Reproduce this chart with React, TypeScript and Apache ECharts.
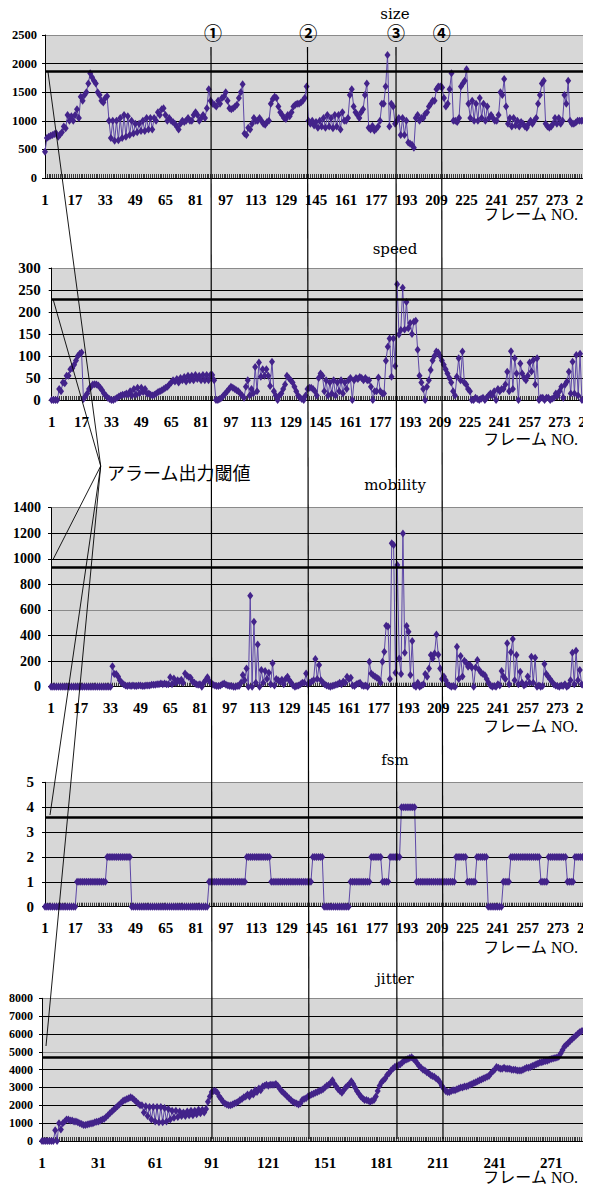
import React, { useEffect, useRef } from 'react';
import * as echarts from 'echarts';

// ---------- DATA ----------
const FRAME_COUNT = 290;
const FRAMES: string[] = Array.from({ length: FRAME_COUNT }, (_, i) => String(i + 1));

const SIZE = [
  460, 700, 720, 740, 750, 770, 780, 720, 760, 800,
  900, 870, 1100, 1000, 1080, 1000, 1100, 1200, 1050, 1420,
  1350, 1450, 1500, 1650, 1830, 1760, 1700, 1650, 1500, 1450,
  1350, 1320, 1400, 1430, 1000, 700, 1000, 650, 1000, 660,
  1050, 700, 1100, 720, 1080, 750, 1000, 780, 950, 800,
  950, 820, 1000, 820, 1050, 850, 1050, 850, 1050, 1000,
  1150, 1100, 1200, 1220, 1100, 1000, 1050, 1000, 980, 950,
  900, 850, 950, 1000, 980, 1000, 1050, 1000, 1000, 1100,
  1150, 1100, 1000, 1050, 1100, 1050, 1220, 1550, 1350, 1300,
  1280, 1250, 1350, 1300, 1400, 1420, 1500, 1350, 1220, 1200,
  1220, 1250, 1280, 1400, 1500, 1640, 780, 750, 880, 850,
  950, 1050, 1000, 1000, 1050, 1000, 950, 930, 980, 1000,
  1300, 1380, 1420, 1400, 1250, 1150, 1100, 1050, 1030, 1100,
  1080, 1150, 1250, 1280, 1300, 1300, 1320, 1350, 1400, 1600,
  1000, 950, 1000, 920, 980, 880, 1000, 900, 1050, 880,
  1100, 900, 1050, 870, 1100, 900, 1100, 850, 1150, 1000,
  1000, 1050, 1450, 1550, 1250, 1150, 1100, 1050, 1150, 1200,
  1450, 1650, 880, 850, 910, 830, 860, 900, 1000, 1300,
  1300, 1600, 2150, 900, 1300, 1250, 950, 1000, 1050, 750,
  1050, 750, 1000, 620, 600, 580, 530, 1050, 1100, 1000,
  1050, 1050, 1120, 1150, 1250, 1300, 1350, 1350, 1550, 1600,
  1600, 1580, 1400, 1250, 1300, 1550, 1830, 1000, 1000, 980,
  1050, 1600, 1650, 1700, 1900, 1300, 1050, 1350, 1000, 1300,
  1000, 1400, 1050, 1300, 1000, 1250, 1050, 1100, 1050, 1000,
  1000, 1100, 1500, 1450, 1730, 1250, 950, 1050, 900, 1050,
  920, 1000, 900, 980, 950, 900, 880, 950, 1000, 950,
  1000, 1050, 1300, 1450, 1650, 1700, 950, 900, 880, 900,
  950, 1050, 950, 1050, 950, 1000, 1450, 1300, 1700, 1000,
  950, 950, 970, 1000, 1000, 1000, 1000, 1050, 1050, 1000,
];

const SPEED = [
  0, 0, 0, 0, 25, 20, 40, 38, 55, 55,
  70, 72, 80, 90, 100, 105, 108, 2, 8, 15,
  25, 30, 35, 36, 35, 33, 28, 22, 15, 10,
  5, 2, 0, 0, 2, 5, 8, 10, 12, 12,
  15, 12, 20, 10, 25, 12, 28, 15, 28, 18,
  25, 15, 15, 12, 10, 12, 15, 18, 20, 22,
  25, 28, 30, 35, 40, 45, 42, 48, 40, 50,
  45, 52, 42, 55, 45, 55, 45, 57, 48, 55,
  45, 57, 45, 57, 45, 57, 57, 45, 0, 0,
  2, 5, 10, 15, 20, 25, 30, 28, 25, 22,
  20, 15, 10, 5, 30, 45, 10, 25, 15, 75,
  20, 85, 53, 70, 55, 70, 55, 32, 87, 20,
  10, 0, 10, 15, 25, 35, 55, 50, 45, 40,
  30, 20, 10, 5, 2, 0, 10, 25, 28, 28,
  25, 20, 10, 50, 60, 55, 20, 45, 10, 40,
  15, 45, 10, 40, 20, 45, 15, 40, 25, 45,
  50, 0, 45, 50, 48, 52, 50, 45, 50, 45,
  45, 30, 0, 20, 20, 51, 20, 15, 15, 89,
  121, 140, 53, 140, 77, 263, 149, 159, 255, 160,
  223, 163, 175, 150, 178, 180, 114, 55, 40, 25,
  0, 30, 45, 68, 90, 100, 110, 108, 100, 90,
  80, 70, 60, 50, 40, 20, 10, 53, 95, 45,
  110, 40, 35, 25, 20, 0, 0, 5, 2, 0,
  3, 5, 0, 5, 10, 15, 10, 20, 0, 25,
  20, 25, 25, 35, 64, 20, 111, 25, 95, 60,
  0, 83, 60, 50, 45, 55, 85, 65, 91, 35,
  95, 0, 5, 5, 0, 5, 5, 0, 3, 5,
  15, 10, 20, 30, 5, 35, 42, 64, 15, 87,
  15, 102, 10, 105, 0, 0, 0, 0, 0, 0,
];

const MOBILITY = [
  0, 0, 0, 0, 0, 0, 0, 0, 0, 0,
  0, 0, 0, 0, 0, 0, 0, 0, 0, 0,
  0, 0, 0, 0, 0, 0, 0, 0, 0, 0,
  0, 0, 0, 160, 100, 100, 80, 50, 30, 20,
  10, 5, 10, 5, 10, 5, 5, 10, 10, 5,
  5, 10, 10, 10, 15, 15, 15, 20, 20, 25,
  20, 25, 20, 20, 73, 20, 65, 30, 50, 40,
  55, 30, 104, 85, 75, 70, 40, 30, 20, 15,
  20, 0, 30, 50, 73, 45, 30, 15, 10, 5,
  5, 10, 20, 25, 15, 10, 5, 5, 0, 0,
  5, 5, 30, 91, 50, 143, 0, 712, 0, 508,
  30, 331, 0, 130, 30, 122, 60, 110, 20, 183,
  10, 60, 50, 40, 55, 20, 60, 78, 50, 30,
  10, 0, 5, 10, 20, 30, 30, 104, 20, 30,
  40, 50, 216, 60, 170, 50, 30, 20, 10, 5,
  0, 5, 10, 15, 20, 30, 20, 40, 30, 78,
  60, 70, 10, 5, 20, 25, 30, 10, 5, 10,
  0, 195, 104, 90, 80, 70, 60, 30, 195, 274,
  477, 470, 60, 1121, 1108, 109, 951, 220, 100, 1199,
  266, 474, 430, 91, 357, 10, 0, 30, 0, 10,
  20, 99, 78, 143, 248, 220, 260, 409, 250, 143,
  60, 80, 50, 20, 10, 0, 5, 0, 313, 60,
  240, 80, 203, 188, 156, 170, 150, 0, 151, 209,
  130, 110, 100, 90, 60, 30, 10, 0, 5, 0,
  20, 10, 122, 80, 60, 339, 20, 270, 373, 50,
  248, 20, 117, 30, 10, 20, 80, 30, 235, 30,
  227, 0, 10, 0, 5, 177, 100, 80, 60, 40,
  20, 10, 5, 0, 10, 5, 20, 0, 10, 50,
  266, 20, 281, 50, 130, 20, 10, 0, 0, 0,
];

const FSM = [
  0, 0, 0, 0, 0, 0, 0, 0, 0, 0,
  0, 0, 0, 0, 0, 0, 0, 1, 1, 1,
  1, 1, 1, 1, 1, 1, 1, 1, 1, 1,
  1, 1, 1, 2, 2, 2, 2, 2, 2, 2,
  2, 2, 2, 2, 2, 2, 0, 0, 0, 0,
  0, 0, 0, 0, 0, 0, 0, 0, 0, 0,
  0, 0, 0, 0, 0, 0, 0, 0, 0, 0,
  0, 0, 0, 0, 0, 0, 0, 0, 0, 0,
  0, 0, 0, 0, 0, 0, 0, 1, 1, 1,
  1, 1, 1, 1, 1, 1, 1, 1, 1, 1,
  1, 1, 1, 1, 1, 1, 1, 2, 2, 2,
  2, 2, 2, 2, 2, 2, 2, 2, 2, 2,
  1, 1, 1, 1, 1, 1, 1, 1, 1, 1,
  1, 1, 1, 1, 1, 1, 1, 1, 1, 1,
  1, 1, 2, 2, 2, 2, 2, 2, 0, 0,
  0, 0, 0, 0, 0, 0, 0, 0, 0, 0,
  0, 0, 1, 1, 1, 1, 1, 1, 1, 1,
  1, 1, 1, 2, 2, 2, 2, 2, 2, 1,
  1, 1, 1, 2, 2, 2, 2, 2, 2, 4,
  4, 4, 4, 4, 4, 4, 4, 1, 1, 1,
  1, 1, 1, 1, 1, 1, 1, 1, 1, 1,
  1, 1, 1, 1, 1, 1, 1, 1, 2, 2,
  2, 2, 2, 2, 1, 1, 1, 1, 1, 2,
  2, 2, 2, 2, 2, 0, 0, 0, 0, 0,
  0, 0, 0, 1, 1, 1, 1, 2, 2, 2,
  2, 2, 2, 2, 2, 2, 2, 2, 2, 2,
  2, 2, 2, 1, 1, 1, 1, 2, 2, 2,
  2, 2, 2, 2, 2, 2, 2, 1, 1, 1,
  1, 2, 2, 2, 2, 2, 2, 2, 2, 2,
];

const JITTER = [
  0, 0, 0, 0, 0, 0, 0, 600, 0, 1000,
  650, 1000, 1100, 1200, 1200, 1150, 1150, 1100, 1100, 1050,
  1000, 950, 900, 900, 920, 950, 980, 1000, 1050, 1080,
  1100, 1150, 1200, 1250, 1350, 1450, 1550, 1650, 1750, 1850,
  1950, 2050, 2150, 2250, 2300, 2350, 2400, 2450, 2400, 2300,
  2200, 2100, 2000, 2000, 1600, 1950, 1400, 1900, 1200, 1900,
  1100, 1900, 1050, 1900, 1050, 1850, 1100, 1800, 1200, 1700,
  1300, 1700, 1350, 1650, 1400, 1600, 1400, 1650, 1450, 1700,
  1450, 1700, 1500, 1750, 1550, 1750, 1600, 1800, 2200, 2500,
  2750, 2800, 2800, 2700, 2500, 2350, 2200, 2100, 2050, 2000,
  2000, 2050, 2100, 2150, 2200, 2300, 2350, 2450, 2500, 2600,
  2500, 2700, 2600, 2850, 2750, 2950, 2850, 3050, 3100, 3150,
  3100, 3150, 3150, 3150, 3200, 3100, 2950, 2800, 2700, 2600,
  2500, 2400, 2300, 2200, 2150, 2100, 2050, 2100, 2300, 2350,
  2400, 2500, 2550, 2600, 2650, 2700, 2750, 2800, 2850, 2900,
  3000, 3100, 3150, 3250, 3400, 3200, 3050, 2900, 2800, 2700,
  2850, 3000, 3100, 3200, 3350, 3200, 3000, 2800, 2650, 2500,
  2400, 2300, 2300, 2250, 2200, 2250, 2300, 2500, 2800, 3100,
  3300, 3400, 3500, 3700, 3800, 3950, 4050, 4150, 4200, 4250,
  4300, 4400, 4500, 4550, 4600, 4650, 4700, 4600, 4500, 4350,
  4200, 4100, 4000, 3950, 3850, 3800, 3700, 3650, 3600, 3500,
  3450, 3300, 3100, 2950, 2800, 2750, 2750, 2800, 2850, 2850,
  2900, 2950, 3000, 3000, 3050, 3050, 3100, 3150, 3200, 3250,
  3300, 3350, 3400, 3450, 3500, 3550, 3600, 3650, 3800, 3900,
  4000, 4150, 4100, 4050, 4050, 4100, 4050, 4050, 4050, 4000,
  4000, 4000, 3950, 3950, 3950, 4000, 4050, 4100, 4100, 4150,
  4200, 4250, 4300, 4350, 4400, 4420, 4450, 4480, 4500, 4550,
  4600, 4620, 4650, 4680, 4720, 4900, 5100, 5300, 5400, 5500,
  5600, 5700, 5800, 5900, 6000, 6100, 6150, 6200, 6250, 6300,
];

const TITLES = ['size', 'speed', 'mobility', 'fsm', 'jitter'];
const THRESHOLDS = [1870, 229, 938, 3.6, 4710];
const Y_MAX = [2500, 300, 1400, 5, 8000];
const Y_STEP = [500, 50, 200, 1, 1000];
const X_LABEL_EVERY = [16, 16, 16, 16, 30];
const AXIS_NAME = 'フレーム NO.';
const EVENT_MARKS = ['①', '②', '③', '④'];
const ANNOTATION = 'アラーム出力閾値';

// ---------- LAYOUT / STYLE ----------
const SERIF = '"Liberation Serif", "Times New Roman", serif';
const TITLE_FONT = '"DejaVu Serif", serif';
const JP = '"Noto Sans CJK JP", sans-serif';
const PLOT_BG = '#d7d7d7';
const LINE_COLOR = '#5c46a6';
const MARK_COLOR = '#43238a';

const LAYOUT = [
  { left: 45, top: 35, height: 143, step: 1.882, yFont: 12.5, yMargin: 8, titleY: 14, nameY: 214, gray: [5] },
  { left: 51.7, top: 268, height: 132, step: 1.867, yFont: 15, yMargin: 11, titleY: 249, nameY: 439, gray: [6] },
  { left: 51, top: 507.7, height: 179, step: 1.862, yFont: 14, yMargin: 10, titleY: 485, nameY: 726, gray: [3, 7] },
  { left: 45, top: 782.3, height: 124.4, step: 1.886, yFont: 15, yMargin: 11, titleY: 760, nameY: 947, gray: [5] },
  { left: 42, top: 998.3, height: 142.7, step: 1.886, yFont: 12, yMargin: 9, titleY: 979, nameY: 1177, gray: [5, 8] },
];

const EVENT_LINES = [
  { x1: 211, x2: 212, label: 213 },
  { x1: 307.5, x2: 309, label: 308.3 },
  { x1: 396, x2: 397, label: 396 },
  { x1: 441.6, x2: 443, label: 441.7 },
];

const ANNOT_POINT = [100.7, 466];
const ANNOT_TARGETS = [
  [48, 72],
  [53.3, 300],
  [53.3, 559],
  [50, 815],
  [46, 1046],
];

export default function App() {
  const ref = useRef<HTMLDivElement>(null);

  useEffect(() => {
    if (!ref.current) return;
    const chart = echarts.init(ref.current, null, { renderer: 'svg', width: 590, height: 1185 });
    const datasets = [SIZE, SPEED, MOBILITY, FSM, JITTER];

    const grid: any[] = [];
    const xAxis: any[] = [];
    const yAxis: any[] = [];
    const series: any[] = [];
    const graphic: any[] = [];

    LAYOUT.forEach((p, i) => {
      const nLines = Y_MAX[i] / Y_STEP[i] + 1;
      const lineColors: string[] = [];
      for (let k = 0; k < nLines; k++) lineColors.push(p.gray.includes(k) ? '#8a8a8a' : '#000');
      grid.push({
        left: p.left,
        top: p.top,
        width: (FRAME_COUNT - 1) * p.step,
        height: p.height,
        show: true,
        backgroundColor: PLOT_BG,
        borderWidth: 0,
        containLabel: false,
        outerBoundsMode: 'none',
      });
      xAxis.push({
        type: 'category',
        gridIndex: i,
        data: FRAMES,
        boundaryGap: false,
        axisLine: { show: true, onZero: true, lineStyle: { color: '#000', width: 1 } },
        axisTick: { show: true, inside: true, length: 4, interval: 0, lineStyle: { color: '#111', width: 0.8 } },
        axisLabel: {
          interval: X_LABEL_EVERY[i] - 1,
          margin: 14,
          fontFamily: SERIF,
          fontWeight: 'bold',
          fontSize: 15,
          color: '#000',
        },
        splitLine: { show: false },
      });
      yAxis.push({
        type: 'value',
        gridIndex: i,
        min: 0,
        max: Y_MAX[i],
        interval: Y_STEP[i],
        axisLine: { show: true, lineStyle: { color: '#000', width: 1 } },
        axisTick: { show: true, length: 3, lineStyle: { color: '#000' } },
        axisLabel: {
          margin: p.yMargin,
          fontFamily: SERIF,
          fontWeight: 'bold',
          fontSize: p.yFont,
          color: '#000',
          formatter: (v: number) => String(v),
        },
        splitLine: { show: true, lineStyle: { color: lineColors, width: 1 } },
      });
      series.push({
        type: 'line',
        name: TITLES[i],
        xAxisIndex: i,
        yAxisIndex: i,
        data: datasets[i],
        symbol: 'diamond',
        symbolSize: [6, 8],
        showAllSymbol: true,
        lineStyle: { color: LINE_COLOR, width: 1 },
        itemStyle: { color: MARK_COLOR },
        emphasis: { disabled: true },
        silent: true,
        z: 3,
        markLine: {
          silent: true,
          symbol: 'none',
          label: { show: false },
          lineStyle: { color: '#000', width: 2.5, type: 'solid' },
          data: [{ yAxis: THRESHOLDS[i] }],
          z: 4,
        },
      });
      graphic.push({
        type: 'text',
        x: 395,
        y: p.titleY,
        style: { text: TITLES[i], font: `15px ${TITLE_FONT}`, fill: '#000', textAlign: 'center', textVerticalAlign: 'middle', verticalAlign: 'middle' },
        z: 60,
      });
      graphic.push({
        type: 'text',
        x: 578,
        y: p.nameY,
        style: { text: AXIS_NAME, font: `16px ${SERIF}, ${JP}`, fill: '#000', textAlign: 'right', textVerticalAlign: 'middle', verticalAlign: 'middle' },
        z: 60,
      });
    });

    // event lines ①〜④
    EVENT_LINES.forEach((e, k) => {
      graphic.push({
        type: 'line',
        shape: { x1: e.x1, y1: 47, x2: e.x2, y2: 1139 },
        style: { stroke: '#000', lineWidth: 1.2 },
        z: 50,
      });
      graphic.push({
        type: 'text',
        x: e.label,
        y: 32,
        style: { text: EVENT_MARKS[k], font: `bold 18px ${JP}`, fill: '#000', textAlign: 'center', textVerticalAlign: 'middle', verticalAlign: 'middle' },
        z: 60,
      });
    });

    // annotation
    ANNOT_TARGETS.forEach((t) => {
      graphic.push({
        type: 'line',
        shape: { x1: ANNOT_POINT[0], y1: ANNOT_POINT[1], x2: t[0], y2: t[1] },
        style: { stroke: '#000', lineWidth: 0.9 },
        z: 50,
      });
    });
    graphic.push({
      type: 'text',
      x: 107,
      y: 472,
      style: { text: ANNOTATION, font: `18px ${JP}`, fill: '#000', textAlign: 'left', textVerticalAlign: 'middle', verticalAlign: 'middle' },
      z: 60,
    });

    // crop on the right side like the reference image
    graphic.push({
      type: 'rect',
      shape: { x: 583, y: 0, width: 10, height: 1185 },
      style: { fill: '#fff' },
      z: 100,
    });

    chart.setOption({
      animation: false,
      backgroundColor: '#fff',
      grid,
      xAxis,
      yAxis,
      series,
      graphic,
    });

    return () => chart.dispose();
  }, []);

  return (
    <div
      ref={ref}
      style={{ position: 'absolute', left: 0, top: 0, width: 590, height: 1185, background: '#fff' }}
    />
  );
}
